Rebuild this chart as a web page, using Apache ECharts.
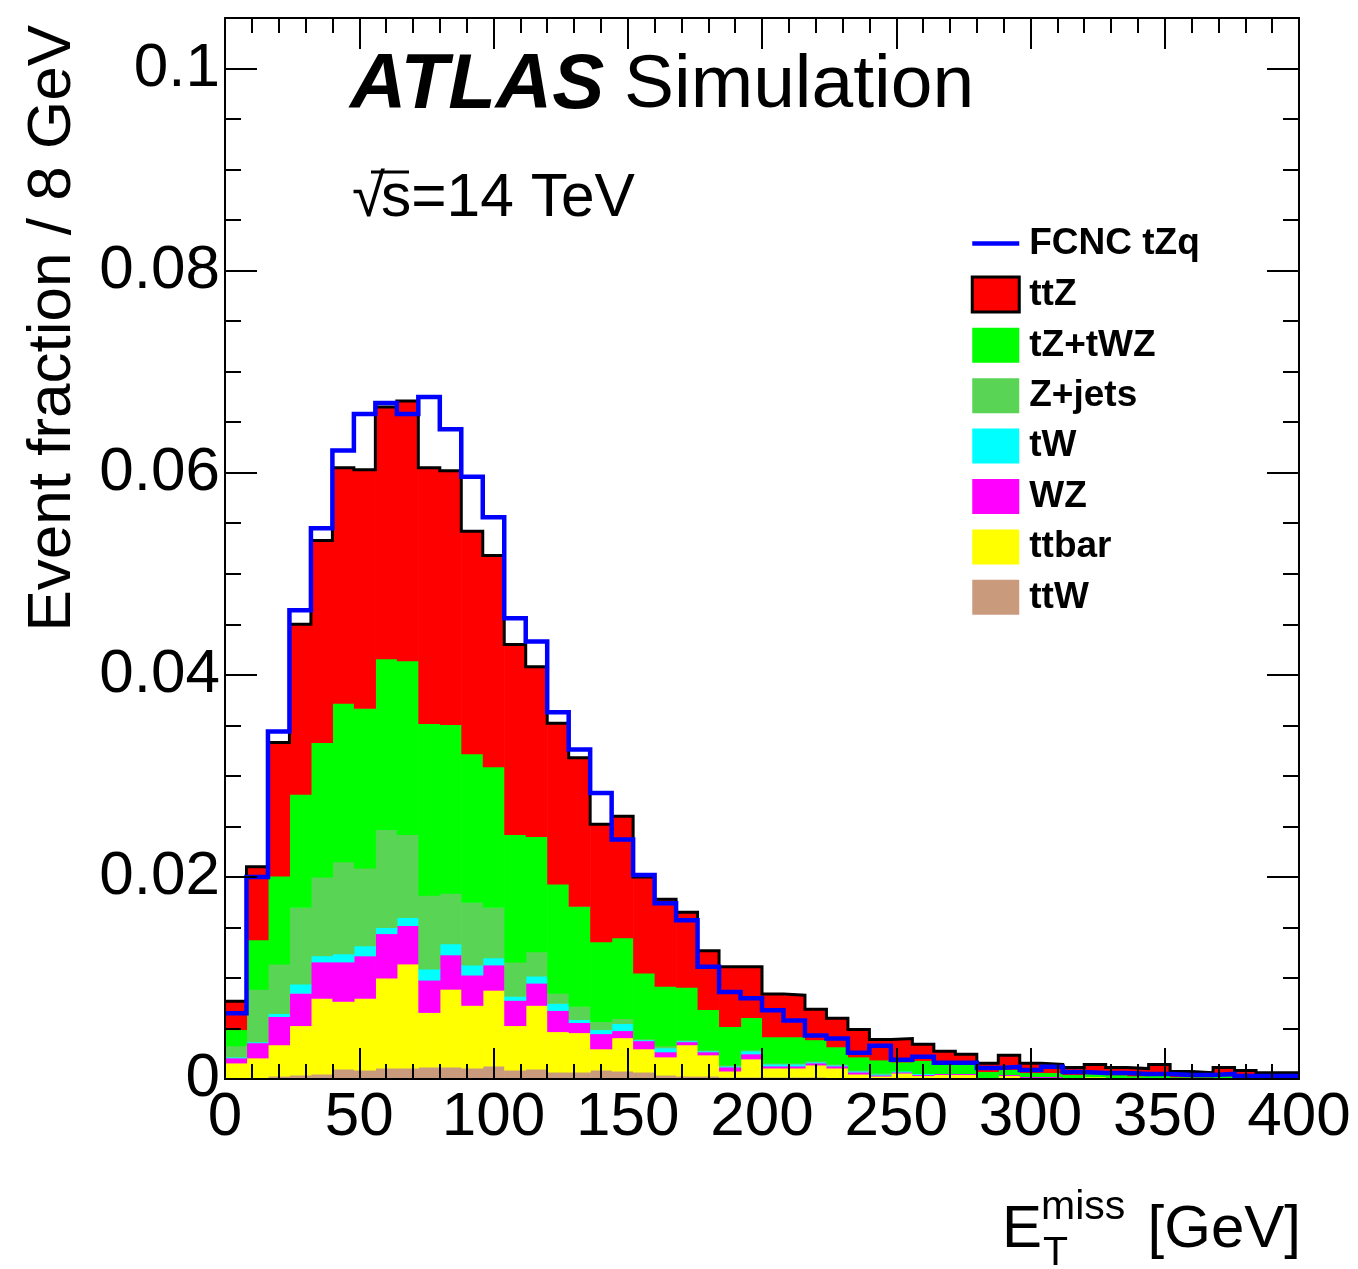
<!DOCTYPE html>
<html><head><meta charset="utf-8">
<script src="https://cdn.jsdelivr.net/npm/echarts@6/dist/echarts.min.js"></script>
<style>html,body{margin:0;padding:0;background:#fff}#c{width:1358px;height:1269px}</style>
</head><body><div id="c"></div>
<script>
// ---- data ----
const binWidth = 8;
const binLowEdges = [0,8,16,24,32,40,48,56,64,72,80,88,96,104,112,120,128,136,144,152,160,168,176,184,192,200,208,216,224,232,240,248,256,264,272,280,288,296,304,312,320,328,336,344,352,360,368,376,384,392];
const xTickLabels = ['0','50','100','150','200','250','300','350','400'];
const yTickValues = [0,0.02,0.04,0.06,0.08,0.1];
const yTickLabels = ['0','0.02','0.04','0.06','0.08','0.1'];

const ttW   = [0.0001,0.0001,0.0003,0.0004,0.0005,0.0010,0.0009,0.0011,0.0011,0.0012, 0.0012,0.0011,0.0013,0.0009,0.0010,0.0007,0.0007,0.0009,0.0008,0.0007, 0.0004,0.0003,0.0003,0.0002,0.0002,0.0002,0.0002,0.0002,0.0001,0.0001, 0.0001,0.0001,0.00005,0.00005,0.00005,0.00005,0.00005,0.00005,0.00005,0.00005, 0.00003,0.00003,0.00003,0.00003,0.00003,0.00003,0.00003,0.00003,0.00003,0.00003];
const ttbar = [0.0015,0.0020,0.0031,0.0049,0.0075,0.0067,0.0071,0.0089,0.0103,0.0054, 0.0077,0.0062,0.0075,0.0044,0.0063,0.0040,0.0039,0.0021,0.0033,0.0023, 0.0018,0.0031,0.0021,0.0006,0.0018,0.0009,0.0009,0.0012,0.0010,0.0004, 0.0002,0.0005,0.0003,0.0004,0.0004,0.0001,0.0003,0.0001,0.0001,0.0001, 0.0002,0.0001,0,0.0001,0,0,0,0,0,0];
const WZ    = [0.0005,0.0015,0.0028,0.0032,0.0036,0.0039,0.0042,0.0044,0.0038,0.0032, 0.0034,0.0030,0.0025,0.0025,0.0022,0.0021,0.0010,0.0015,0.0007,0.0008, 0.0005,0.0003,0.0003,0.0004,0.0005,0.0002,0.0002,0.0002,0.0002,0.0002, 0.0001,0.0001,0.0001,0.0001,0.0001,0,0.0001,0.0001,0.0001,0, 0,0,0,0,0,0,0,0,0,0];
const tW    = [0.0001,0.0001,0.0003,0.0009,0.0006,0.0008,0.0010,0.0006,0.0008,0.0011, 0.0011,0.0010,0.0007,0.0004,0.0007,0.0007,0.0003,0.0004,0.0007,0.0001, 0.0004,0.0001,0.0001,0.0001,0.0003,0.0002,0.0002,0.0001,0.0001,0.0001, 0.0001,0.0001,0.0001,0,0,0,0,0,0,0, 0,0,0,0,0,0,0,0,0,0];
const Zjets = [0.0011,0.0052,0.0049,0.0076,0.0078,0.0091,0.0077,0.0097,0.0082,0.0073, 0.0050,0.0062,0.0050,0.0034,0.0024,0.0010,0.0013,0.0008,0.0005,0.0001, 0.0002,0.0001,0.0001,0.0001,0.0001,0.0001,0.0001,0.0001,0.0001,0.0001, 0.0001,0,0,0,0,0,0,0,0,0, 0,0,0,0,0,0,0,0,0,0];
const tZ    = [0.0016,0.0049,0.0087,0.0112,0.0133,0.0157,0.0158,0.0169,0.0172,0.0170, 0.0167,0.0147,0.0139,0.0126,0.0114,0.0108,0.0099,0.0079,0.0080,0.0065, 0.0059,0.0052,0.0040,0.0038,0.0032,0.0026,0.0026,0.0021,0.0017,0.0013, 0.0013,0.0009,0.0013,0.0010,0.0010,0.0006,0.0005,0.0004,0.0004,0.0003, 0.0003,0.0003,0.0003,0.0003,0.0002,0.0002,0.0003,0.0002,0.0001,0.0001];
const ttZ   = [0.0028,0.0072,0.0132,0.0168,0.0200,0.0233,0.0236,0.0249,0.0257,0.0253, 0.0251,0.0220,0.0209,0.0188,0.0168,0.0159,0.0147,0.0116,0.0120,0.0095, 0.0086,0.0074,0.0058,0.0059,0.0050,0.0042,0.0041,0.0030,0.0028,0.0027, 0.0020,0.0023,0.0016,0.0012,0.0009,0.0008,0.0014,0.0009,0.0008,0.0007, 0.0009,0.0007,0.0007,0.0010,0.0005,0.0004,0.0008,0.0006,0.0005,0.0005];
const fcncTZq = [0.0065,0.0200,0.0344,0.0464,0.0545,0.0622,0.0658,0.0669,0.0658,0.0675, 0.0643,0.0596,0.0556,0.0456,0.0433,0.0363,0.0326,0.0283,0.0237,0.0202, 0.0174,0.0157,0.0111,0.0086,0.0080,0.0068,0.0058,0.0043,0.0040,0.0026, 0.0033,0.0019,0.0022,0.0016,0.0016,0.0011,0.0012,0.0009,0.0012,0.0007, 0.0006,0.0006,0.0005,0.0005,0.0004,0.0004,0.0005,0.0003,0.0003,0.0003];

// stacking order: bottom -> top
const stackNames  = ['ttW','ttbar','WZ','tW','Z+jets','tZ+tWZ','ttZ'];
const stackValues = [ttW, ttbar, WZ, tW, Zjets, tZ, ttZ];
const stackColors = ['#c99b7c','#ffff00','#ff00ff','#00ffff','#59d454','#00ff00','#ff0000'];
const legendOrder = ['FCNC tZq','ttZ','tZ+tWZ','Z+jets','tW','WZ','ttbar','ttW'];

// ---- build ----
const FONT = 'Liberation Sans, Arial, Helvetica, sans-serif';
const cum = binLowEdges.map(() => 0);
const series = [];
stackValues.forEach((vals, k) => {
  const data = binLowEdges.map((x0, i) => {
    const base = cum[i];
    cum[i] += vals[i];
    return [x0, x0 + binWidth, base, cum[i]];
  });
  const color = stackColors[k];
  series.push({
    type: 'custom', name: stackNames[k], z: 2,
    itemStyle: { color: color },
    dimensions: ['x0','x1','y0','y1'],
    encode: { x: [0, 1], y: [2, 3] },
    data: data,
    renderItem: function (params, api) {
      const y0 = api.value(2), y1 = api.value(3);
      if (y1 - y0 <= 0) return null;
      const p0 = api.coord([api.value(0), y1]);
      const p1 = api.coord([api.value(1), y0]);
      return { type: 'rect', shape: { x: p0[0], y: p0[1], width: p1[0] - p0[0] + 0.6, height: p1[1] - p0[1] + 0.6 },
               style: { fill: color } };
    }
  });
});
const totals = cum.slice();
function stepPoints(vals) {
  const pts = [];
  vals.forEach((v, i) => { pts.push([binLowEdges[i], v]); pts.push([binLowEdges[i] + binWidth, v]); });
  return pts;
}
series.push({ type: 'line', z: 3, data: stepPoints(totals), symbol: 'none', silent: true,
  lineStyle: { color: '#000', width: 3, join: 'miter' } });
series.push({ type: 'line', name: 'FCNC tZq', z: 4, data: stepPoints(fcncTZq), symbol: 'none', showSymbol: false,
  itemStyle: { color: '#0000ff' }, lineStyle: { color: '#0000ff', width: 4.5, join: 'miter' } });

const tickStyle = { color: '#000', width: 2 };
function xAx(pos, showLabel) {
  return { type: 'value', position: pos, min: 0, max: 400, interval: 50, z: 10,
    axisLine: { show: true, onZero: false, lineStyle: tickStyle },
    axisTick: { show: true, inside: true, length: 31, lineStyle: tickStyle },
    minorTick: { show: true, splitNumber: 5, length: 15, lineStyle: tickStyle },
    splitLine: { show: false }, minorSplitLine: { show: false },
    axisLabel: { show: showLabel, fontSize: 62, color: '#000', fontFamily: FONT, margin: 8,
      formatter: v => { const i = Math.round(v / 50); return xTickLabels[i] !== undefined ? xTickLabels[i] : ''; } } };
}
function yAx(pos, interval, len, showLabel, showLine) {
  return { type: 'value', position: pos, min: 0, max: 0.105, interval: interval, z: 10,
    axisLine: { show: showLine, onZero: false, lineStyle: tickStyle },
    axisTick: { show: true, inside: true, length: len, lineStyle: tickStyle },
    splitLine: { show: false },
    axisLabel: { show: showLabel, fontSize: 62, color: '#000', fontFamily: FONT, margin: 5,
      formatter: v => { const k = yTickValues.findIndex(t => Math.abs(t - v) < 1e-9); return k >= 0 ? yTickLabels[k] : ''; } } };
}

const legendData = legendOrder.map(n => {
  if (n === 'FCNC tZq') return { name: n, itemStyle: { color: 'rgba(0,0,0,0)', borderWidth: 0 },
                                 lineStyle: { color: '#0000ff', width: 4.5 } };
  if (n === 'ttZ') return { name: n, icon: 'rect', itemStyle: { borderColor: '#000', borderWidth: 3 } };
  return { name: n, icon: 'rect' };
});

const option = {
  animation: false,
  backgroundColor: '#fff',
  grid: { left: 225, right: 59, top: 18, bottom: 190, containLabel: false, outerBoundsMode: 'none' },
  xAxis: [xAx('bottom', true), xAx('top', false)],
  yAxis: [yAx('left', 0.005, 16, true, true), yAx('left', 0.02, 32, false, false),
          yAx('right', 0.005, 16, false, true), yAx('right', 0.02, 32, false, false)],
  legend: {
    orient: 'vertical', left: 970, top: 225, padding: 0, itemWidth: 47, itemHeight: 35, itemGap: 13.4,
    data: legendData, selectedMode: false,
    textStyle: { fontSize: 37, fontWeight: 'bold', fontFamily: FONT, color: '#000', lineHeight: 37, padding: [0, 0, 0, 5] }
  },
  series: series,
  graphic: { elements: [
    { type: 'text', x: 53, y: 25, rotation: Math.PI / 2, z: 20,
      style: { text: 'Event fraction / 8 GeV', fontSize: 62, fontFamily: FONT, fill: '#000',
               align: 'right', textAlign: 'right', verticalAlign: 'middle', textVerticalAlign: 'middle' } },
    { type: 'text', x: 350, y: 86, z: 20,
      style: { text: 'ATLAS', fontSize: 78, fontWeight: 'bold', fontStyle: 'italic', fontFamily: FONT, fill: '#000',
               align: 'left', textAlign: 'left', verticalAlign: 'middle', textVerticalAlign: 'middle' } },
    { type: 'text', x: 624, y: 86, z: 20,
      style: { text: 'Simulation', fontSize: 75, fontFamily: FONT, fill: '#000',
               align: 'left', textAlign: 'left', verticalAlign: 'middle', textVerticalAlign: 'middle' } },
    { type: 'text', x: 352, y: 199, z: 20,
      style: { text: '√', fontSize: 60, fontFamily: FONT, fill: '#000',
               align: 'left', textAlign: 'left', verticalAlign: 'middle', textVerticalAlign: 'middle' } },
    { type: 'line', z: 20, shape: { x1: 371, y1: 172, x2: 409, y2: 172 }, style: { stroke: '#000', lineWidth: 3 } },
    { type: 'text', x: 381, y: 199, z: 20,
      style: { text: 's=14 TeV', fontSize: 60.5, fontFamily: FONT, fill: '#000',
               align: 'left', textAlign: 'left', verticalAlign: 'middle', textVerticalAlign: 'middle' } },
    { type: 'text', x: 1002, y: 1230, z: 20,
      style: { text: 'E', fontSize: 60, fontFamily: FONT, fill: '#000',
               align: 'left', textAlign: 'left', verticalAlign: 'middle', textVerticalAlign: 'middle' } },
    { type: 'text', x: 1043, y: 1254, z: 20,
      style: { text: 'T', fontSize: 41, fontFamily: FONT, fill: '#000',
               align: 'left', textAlign: 'left', verticalAlign: 'middle', textVerticalAlign: 'middle' } },
    { type: 'text', x: 1041, y: 1208, z: 20,
      style: { text: 'miss', fontSize: 41, fontFamily: FONT, fill: '#000',
               align: 'left', textAlign: 'left', verticalAlign: 'middle', textVerticalAlign: 'middle' } },
    { type: 'text', x: 1301, y: 1230, z: 20,
      style: { text: '[GeV]', fontSize: 60, fontFamily: FONT, fill: '#000',
               align: 'right', textAlign: 'right', verticalAlign: 'middle', textVerticalAlign: 'middle' } }
  ] }
};
const chart = echarts.init(document.getElementById('c'), null, { renderer: 'canvas' });
chart.setOption(option);
</script>
</body></html>
